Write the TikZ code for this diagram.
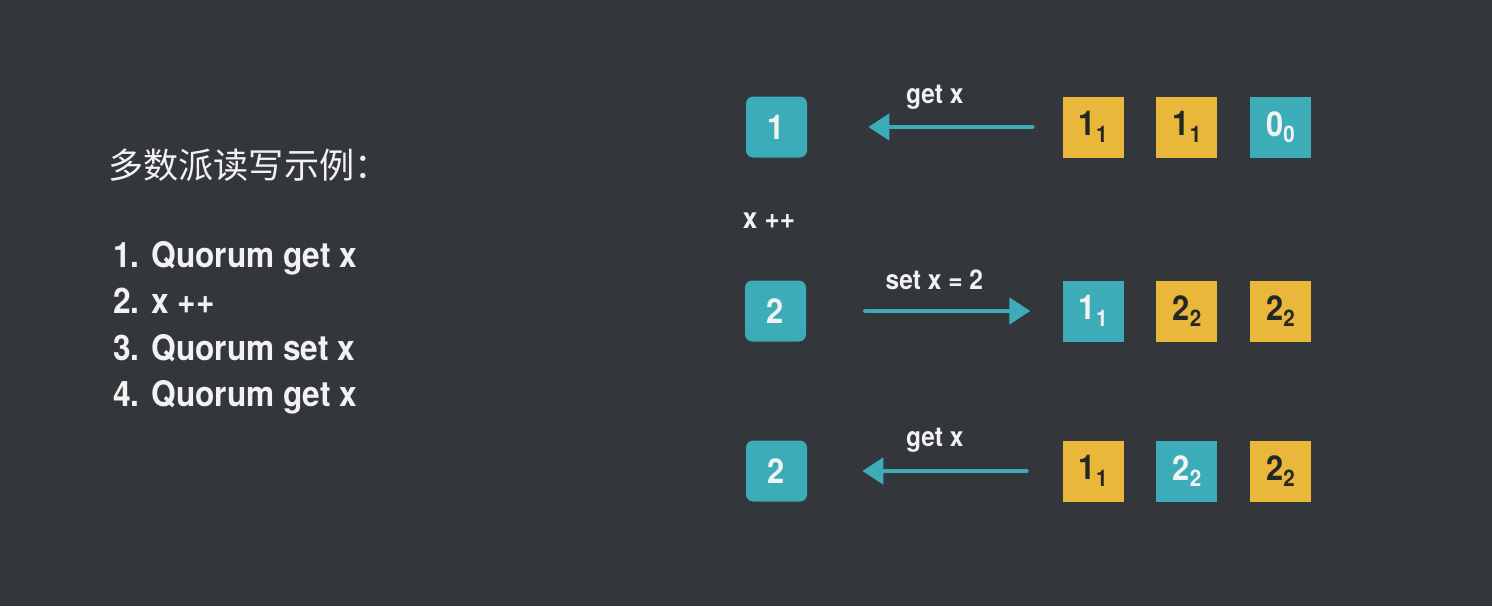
\documentclass[tikz,border=0pt]{standalone}
\usepackage{fontspec}
\setmainfont{TeX Gyre Heros}[FakeStretch=0.9]
\newfontfamily\cjkfont{Noto Sans CJK SC}
\usetikzlibrary{arrows.meta,positioning}
\definecolor{bgdark}{HTML}{33363A}
\definecolor{quorumteal}{HTML}{3CADB8}
\definecolor{quorumgold}{HTML}{E9B83B}
\definecolor{lighttext}{HTML}{F2F2F2}
\definecolor{darktext}{HTML}{262626}
\newcommand{\ver}[2]{#1\raisebox{-0.35ex}{\fontsize{13}{13}\selectfont #2}}

\begin{document}
\begin{tikzpicture}[
  node distance=0.64cm,
  client/.style={fill=quorumteal,rounded corners=4pt,minimum width=1.22cm,
    minimum height=1.22cm,text=lighttext,font=\fontsize{19.5}{19.5}\selectfont\bfseries},
  replica/.style={fill=quorumgold,minimum width=1.22cm,minimum height=1.22cm,
    text=darktext,font=\fontsize{19.5}{19.5}\selectfont\bfseries},
  stale/.style={replica,fill=quorumteal,text=lighttext},
  msg/.style={text=lighttext,font=\fontsize{15.5}{15.5}\selectfont\bfseries},
  arrow/.style={-{Triangle[length=0.42cm,width=0.52cm]},line width=2.7pt,
    line cap=round,color=quorumteal}
]
\fill[bgdark] (0,0) rectangle (29.84,-12.12);
\useasboundingbox (0,0) rectangle (29.84,-12.12);

% steps on the left
\node[anchor=west,inner sep=0pt,text=lighttext,font=\fontsize{20}{20}\selectfont\cjkfont] (title)
  at (2.16,-3.3) {多数派读写示例：};
\node[anchor=north west,align=left,inner sep=0pt,text=lighttext,
  font=\fontsize{20}{26.4}\selectfont\bfseries] (steps) at (2.26,-4.82)
  {1. Quorum get x\\2. x ++\\3. Quorum set x\\4. Quorum get x};

% row 1: get x
\node[client] (c1) at (15.53,-2.54) {1};
\node[replica,right=5.1cm of c1] (r11) {\ver11};
\node[replica,right=of r11] (r12) {\ver11};
\node[stale,right=of r12] (r13) {\ver00};
\draw[arrow,shorten <=0.6cm,shorten >=1.22cm] (r11) --
  node[msg,yshift=0.6cm] (get1) {get x} (c1);

\node[msg,font=\fontsize{16.5}{16.5}\selectfont\bfseries] (inc) at (15.38,-4.42) {x ++};

% row 2: set x
\node[client] (c2) at (15.51,-6.22) {2};
\node[stale,right=5.12cm of c2] (r21) {\ver11};
\node[replica,right=of r21] (r22) {\ver22};
\node[replica,right=of r22] (r23) {\ver22};
\draw[arrow,shorten <=1.18cm,shorten >=0.64cm] (c2) --
  node[msg,yshift=0.62cm] (set2) {set x = 2} (r21);

% row 3: get x again
\node[client] (c3) at (15.53,-9.42) {2};
\node[replica,right=5.1cm of c3] (r31) {\ver11};
\node[stale,right=of r31] (r32) {\ver22};
\node[replica,right=of r32] (r33) {\ver22};
\draw[arrow,shorten <=0.72cm,shorten >=1.1cm] (r31) --
  node[msg,yshift=0.62cm] (get3) {get x} (c3);
\end{tikzpicture}
\end{document}
